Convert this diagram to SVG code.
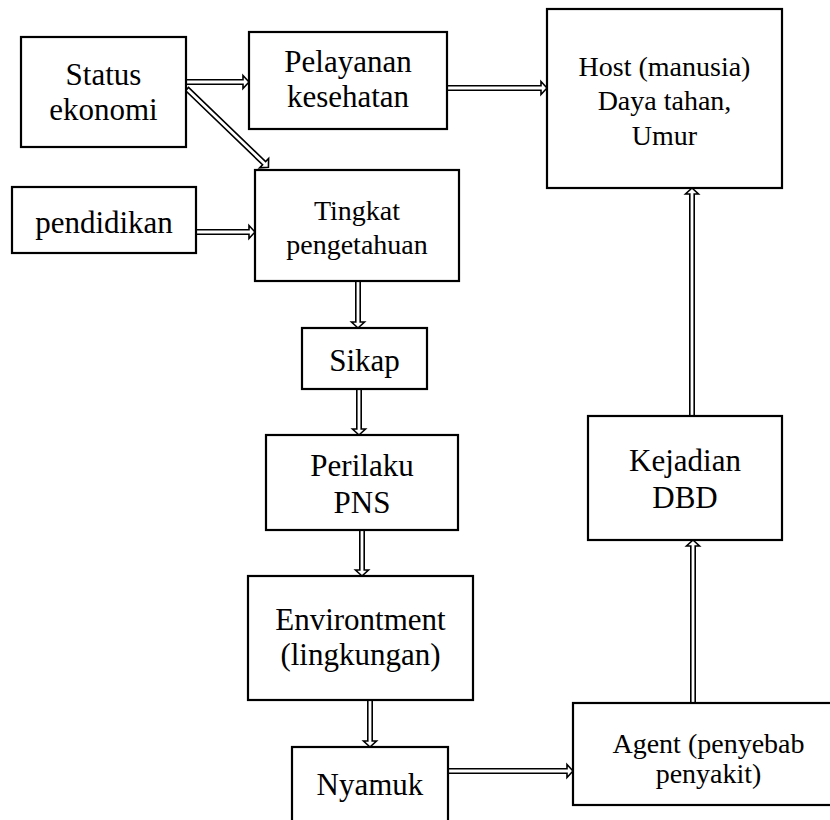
<svg xmlns="http://www.w3.org/2000/svg" width="830" height="820" viewBox="0 0 830 820">
<style>
.box{fill:#fff;stroke:#000;stroke-width:2.2}
.t{font-family:"Liberation Serif","Times New Roman",serif;font-size:31px;fill:#000;text-anchor:middle}
.s{font-size:28px}
.arr{fill:#fff;stroke:#000;stroke-width:1.6;stroke-linejoin:miter}
</style>
<rect width="830" height="820" fill="#fff"/>
<g id="connectors">
<polygon class="arr" transform="translate(186,82)" points="0,-2.2 57,-2.2 57,-6.5 63,0 57,6.5 57,2.2 0,2.2"/>
<polygon class="arr" transform="translate(187,89) rotate(43.9)" points="0,-2.2 107,-2.2 107,-6.5 113,0 107,6.5 107,2.2 0,2.2"/>
<polygon class="arr" transform="translate(196,232)" points="0,-2.2 53,-2.2 53,-6.5 59,0 53,6.5 53,2.2 0,2.2"/>
<polygon class="arr" transform="translate(447,88)" points="0,-2.2 94,-2.2 94,-6.5 100,0 94,6.5 94,2.2 0,2.2"/>
<polygon class="arr" transform="translate(358,281) rotate(90)" points="0,-2.2 41,-2.2 41,-6.5 47,0 41,6.5 41,2.2 0,2.2"/>
<polygon class="arr" transform="translate(359,389) rotate(90)" points="0,-2.2 40,-2.2 40,-6.5 46,0 40,6.5 40,2.2 0,2.2"/>
<polygon class="arr" transform="translate(362,530) rotate(90)" points="0,-2.2 40,-2.2 40,-6.5 46,0 40,6.5 40,2.2 0,2.2"/>
<polygon class="arr" transform="translate(370,700) rotate(90)" points="0,-2.2 41,-2.2 41,-6.5 47,0 41,6.5 41,2.2 0,2.2"/>
<polygon class="arr" transform="translate(448,771)" points="0,-2.2 119,-2.2 119,-6.5 125,0 119,6.5 119,2.2 0,2.2"/>
<polygon class="arr" transform="translate(693,703) rotate(-90)" points="0,-2.2 157,-2.2 157,-6.5 163,0 157,6.5 157,2.2 0,2.2"/>
<polygon class="arr" transform="translate(692,416) rotate(-90)" points="0,-2.2 222,-2.2 222,-6.5 228,0 222,6.5 222,2.2 0,2.2"/>
</g>
<g id="status">
<rect class="box" x="21" y="37" width="165" height="110"/>
<text class="t" x="103.5" y="85">Status</text>
<text class="t" x="103.5" y="120">ekonomi</text>
</g>
<g id="pelayanan">
<rect class="box" x="249" y="32" width="198" height="97"/>
<text class="t" x="348" y="72">Pelayanan</text>
<text class="t" x="348" y="107">kesehatan</text>
</g>
<g id="host">
<rect class="box" x="547" y="9" width="235" height="179"/>
<text class="t s" x="664.5" y="76">Host (manusia)</text>
<text class="t s" x="664.5" y="110">Daya tahan,</text>
<text class="t s" x="664.5" y="145">Umur</text>
</g>
<g id="pendidikan">
<rect class="box" x="12" y="187" width="184" height="66"/>
<text class="t" x="104" y="233">pendidikan</text>
</g>
<g id="tingkat">
<rect class="box" x="255" y="170" width="204" height="111"/>
<text class="t s" x="357" y="220">Tingkat</text>
<text class="t s" x="357" y="254">pengetahuan</text>
</g>
<g id="sikap">
<rect class="box" x="302" y="328" width="125" height="61"/>
<text class="t" x="364.5" y="371">Sikap</text>
</g>
<g id="perilaku">
<rect class="box" x="266" y="435" width="192" height="95"/>
<text class="t" x="362" y="476">Perilaku</text>
<text class="t" x="362" y="513">PNS</text>
</g>
<g id="environtment">
<rect class="box" x="248" y="576" width="225" height="124"/>
<text class="t" x="360.5" y="630">Environtment</text>
<text class="t" x="360.5" y="665">(lingkungan)</text>
</g>
<g id="nyamuk">
<rect class="box" x="292" y="747" width="156" height="100"/>
<text class="t" x="370" y="795">Nyamuk</text>
</g>
<g id="agent">
<rect class="box" x="573" y="703" width="280" height="102"/>
<text class="t s" x="708.5" y="753">Agent (penyebab</text>
<text class="t s" x="708.5" y="783">penyakit)</text>
</g>
<g id="kejadian">
<rect class="box" x="588" y="416" width="194" height="124"/>
<text class="t" x="685" y="471">Kejadian</text>
<text class="t" x="685" y="508">DBD</text>
</g>
</svg>
